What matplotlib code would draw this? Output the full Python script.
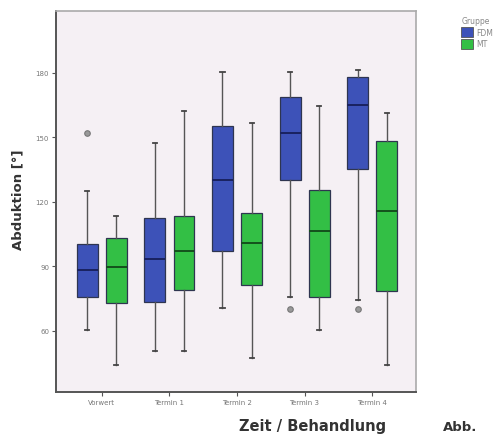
import matplotlib.pyplot as plt
from matplotlib.patches import Patch

categories = ["Vorwert", "Termin 1", "Termin 2", "Termin 3", "Termin 4"]
groups = ["FDM", "MT"]

# per group: lower whisker, Q1, median, Q3, upper whisker
fdm_low = [60.6, 50.6, 70.7, 76.0, 74.6]
fdm_q1 = [76.0, 73.3, 97.1, 130.2, 135.3]
fdm_med = [88.5, 93.5, 130.4, 152.0, 165.3]
fdm_q3 = [100.5, 112.4, 155.5, 168.7, 178.0]
fdm_high = [125.1, 147.4, 180.3, 180.6, 181.5]
fdm_out = [[152.1], [], [], [70.2], [70.2]]

mt_low = [44.3, 50.6, 47.4, 60.6, 44.3]
mt_q1 = [73.0, 79.1, 81.4, 76.0, 78.5]
mt_med = [89.6, 97.4, 100.9, 106.4, 116.0]
mt_q3 = [103.3, 113.6, 114.7, 125.7, 148.2]
mt_high = [113.3, 162.2, 156.7, 164.5, 161.4]
mt_out = [[], [], [], [], []]

yticks = [60, 90, 120, 150, 180]

colors = {"FDM": "#3d52b8", "MT": "#33bf45"}
medcol = {"FDM": "#1a2260", "MT": "#14501c"}


def make_stats(low, q1, med, q3, high, out):
    return [dict(whislo=a, q1=b, med=c, q3=d, whishi=e, fliers=f)
            for a, b, c, d, e, f in zip(low, q1, med, q3, high, out)]


fig = plt.figure(figsize=(5.04, 4.39), dpi=100)
ax = fig.add_axes([56 / 504, 1 - 393 / 439, 360 / 504, 381 / 439])
ax.set_facecolor("#f5f0f4")

data = {
    "FDM": make_stats(fdm_low, fdm_q1, fdm_med, fdm_q3, fdm_high, fdm_out),
    "MT": make_stats(mt_low, mt_q1, mt_med, mt_q3, mt_high, mt_out),
}
offsets = {"FDM": -0.215, "MT": 0.215}

for g in groups:
    pos = [i + offsets[g] for i in range(len(categories))]
    ax.bxp(
        data[g],
        positions=pos,
        widths=0.31,
        patch_artist=True,
        boxprops=dict(facecolor=colors[g], edgecolor="#2e3550", linewidth=0.9),
        medianprops=dict(color=medcol[g], linewidth=1.4),
        whiskerprops=dict(color="#555555", linewidth=1.0),
        capprops=dict(color="#444444", linewidth=1.3),
        capwidths=0.06,
        flierprops=dict(marker="o", markersize=4, markerfacecolor="#999999",
                        markeredgecolor="#777777", markeredgewidth=0.8),
    )

ax.set_xlim(-0.68, 4.65)
ax.set_ylim(31.6, 208.8)
ax.set_xticks(range(len(categories)))
ax.set_xticklabels(categories, fontsize=5, color="#777777")
ax.set_yticks(yticks)
ax.set_yticklabels([str(t) for t in yticks], fontsize=5, color="#777777")
ax.tick_params(direction="out", length=3, width=0.8, color="#555555", pad=2)
for side in ["left", "bottom"]:
    ax.spines[side].set_color("#555555")
    ax.spines[side].set_linewidth(1.4)
for side in ["top", "right"]:
    ax.spines[side].set_color("#aaaaaa")
    ax.spines[side].set_linewidth(1.2)

fig.text(18 / 504, 1 - 200 / 439, "Abduktion [°]", rotation=90, fontsize=9.5,
         fontweight="bold", color="#333333", ha="center", va="center")
fig.text(313 / 504, 1 - 427 / 439, "Zeit / Behandlung", fontsize=10.5,
         fontweight="bold", color="#333333", ha="center", va="center")
fig.text(443 / 504, 1 - 428 / 439, "Abb.", fontsize=9.5, fontweight="bold",
         color="#333333", ha="left", va="center")

handles = [Patch(facecolor=colors[g], edgecolor="#555555", linewidth=0.6)
           for g in groups]
leg = fig.legend(handles, groups, title="Gruppe", loc="upper left",
                 bbox_to_anchor=(456 / 504, 1 - 12 / 439), frameon=False,
                 fontsize=5.5, title_fontsize=5.5, handlelength=1.5,
                 handleheight=1.6, handletextpad=0.4, labelspacing=0.25,
                 borderpad=0.2)
leg._legend_box.align = "left"
for t in leg.get_texts():
    t.set_color("#888888")
leg.get_title().set_color("#888888")

fig.savefig("out.png", dpi=100)
